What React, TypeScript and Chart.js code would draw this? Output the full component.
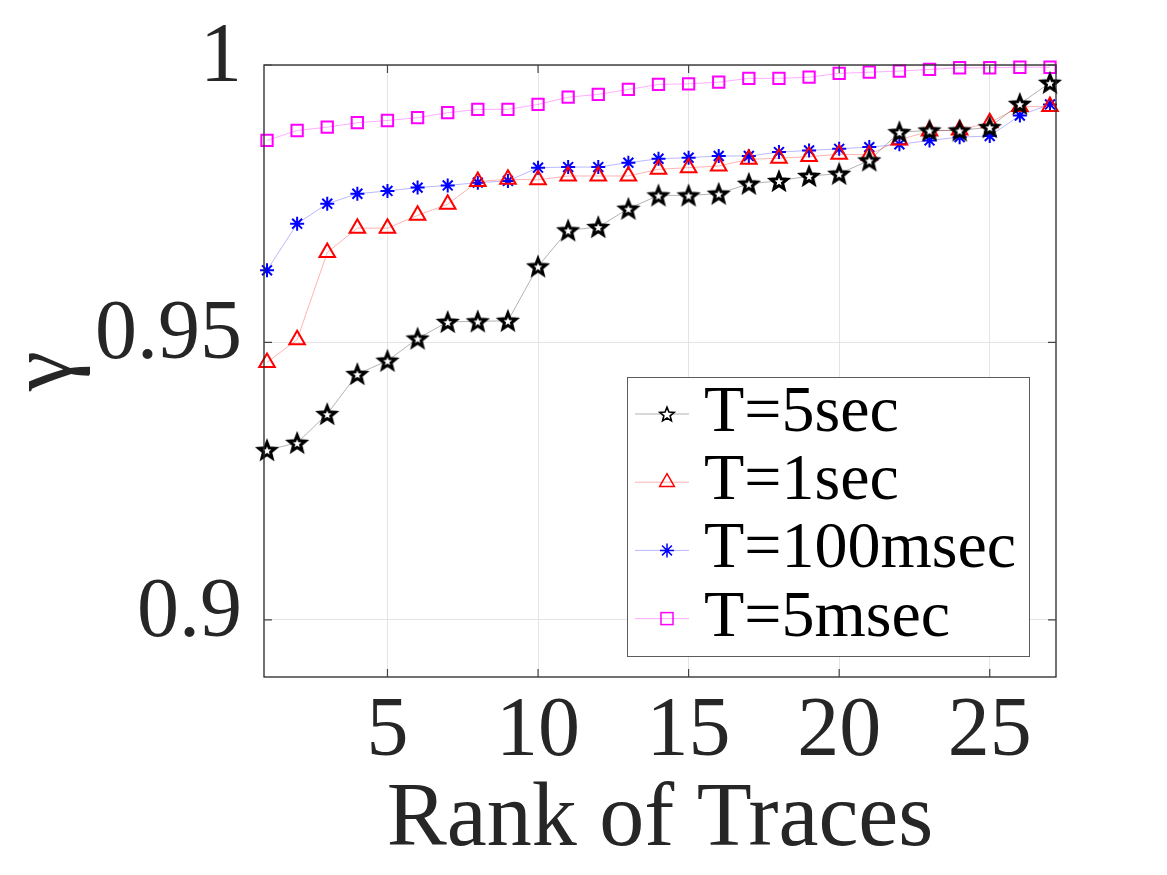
import React, { useEffect, useRef } from 'react';
import { Chart, registerables } from 'chart.js';

Chart.register(...registerables);

// Rank of each trace (x) and the gamma values for every window length T
const ranks = [1, 2, 3, 4, 5, 6, 7, 8, 9, 10, 11, 12, 13, 14, 15, 16, 17, 18, 19, 20, 21, 22, 23, 24, 25, 26, 27];

const gammaT5sec = [
  0.9306, 0.9319, 0.9371, 0.9443, 0.9467, 0.9507, 0.9537, 0.9538, 0.9539, 0.9637,
  0.9702, 0.9708, 0.9741, 0.9765, 0.9765, 0.9768, 0.9786, 0.9791, 0.98, 0.9804,
  0.9828, 0.9879, 0.9882, 0.9882, 0.9888, 0.993, 0.9968,
];
const gammaT1sec = [
  0.9464, 0.9505, 0.9662, 0.9706, 0.9706, 0.9729, 0.9749, 0.979, 0.9794, 0.9793,
  0.98, 0.98, 0.98, 0.9812, 0.9815, 0.9818, 0.983, 0.9832, 0.9835, 0.9839,
  0.9838, 0.9865, 0.9881, 0.9883, 0.9896, 0.9925, 0.9925,
];
const gammaT100msec = [
  0.963, 0.9714, 0.975, 0.9768, 0.9773, 0.9779, 0.9783, 0.9788, 0.9791, 0.9815,
  0.9816, 0.9816, 0.9824, 0.9831, 0.9833, 0.9836, 0.9836, 0.9843, 0.9846, 0.9849,
  0.9852, 0.9857, 0.9864, 0.987, 0.9872, 0.9909, 0.9929,
];
const gammaT5msec = [
  0.9864, 0.9882, 0.9888, 0.9896, 0.99, 0.9905, 0.9914, 0.992, 0.992, 0.9929,
  0.9942, 0.9947, 0.9956, 0.9965, 0.9966, 0.9969, 0.9976, 0.9976, 0.9978, 0.9985,
  0.9987, 0.9989, 0.9992, 0.9995, 0.9995, 0.9996, 0.9996,
];

const seriesLabels = ['T=5sec', 'T=1sec', 'T=100msec', 'T=5msec'];

const xTicks = [5, 10, 15, 20, 25];
const xTickLabels = ['5', '10', '15', '20', '25'];
const yTicks = [0.9, 0.95, 1];
const yTickLabels = ['0.9', '0.95', '1'];

const xTitle = 'Rank of Traces';
const yTitle = 'γ';

const SERIF = "'Liberation Serif', 'Times New Roman', Times, serif";
const INK = '#262626';

type MarkerKind = 'pentagram' | 'triangle' | 'asterisk' | 'square';

function tracePentagram(ctx: CanvasRenderingContext2D, cx: number, cy: number, R: number, r: number) {
  ctx.beginPath();
  for (let i = 0; i < 10; i++) {
    const a = -Math.PI / 2 + (i * Math.PI) / 5;
    const rad = i % 2 === 0 ? R : r;
    const px = cx + rad * Math.cos(a);
    const py = cy + rad * Math.sin(a);
    if (i === 0) ctx.moveTo(px, py);
    else ctx.lineTo(px, py);
  }
  ctx.closePath();
}

function makePentagram(R: number, r: number, lineWidth: number): HTMLCanvasElement {
  const size = Math.ceil(R * 2 + lineWidth * 4 + 4);
  const c = document.createElement('canvas');
  c.width = size;
  c.height = size;
  const ctx = c.getContext('2d')!;
  tracePentagram(ctx, size / 2, size / 2 + R * 0.1, R, r);
  ctx.fillStyle = '#ffffff';
  ctx.fill();
  ctx.lineJoin = 'miter';
  ctx.miterLimit = 4;
  ctx.lineWidth = lineWidth;
  ctx.strokeStyle = '#000000';
  ctx.stroke();
  return c;
}

function drawMarker(
  ctx: CanvasRenderingContext2D,
  kind: MarkerKind,
  x: number,
  y: number,
  color: string,
  lw: number,
  star: HTMLCanvasElement,
) {
  ctx.save();
  ctx.strokeStyle = color;
  ctx.lineWidth = lw;
  if (kind === 'pentagram') {
    ctx.drawImage(star, x - star.width / 2, y - star.height / 2);
  } else if (kind === 'triangle') {
    const r = 8.5;
    ctx.beginPath();
    ctx.moveTo(x, y - r);
    ctx.lineTo(x + r * Math.sin((2 * Math.PI) / 3), y + r / 2);
    ctx.lineTo(x - r * Math.sin((2 * Math.PI) / 3), y + r / 2);
    ctx.closePath();
    ctx.stroke();
  } else if (kind === 'asterisk') {
    const r = 7;
    const d = r * Math.SQRT1_2;
    ctx.beginPath();
    ctx.moveTo(x - r, y); ctx.lineTo(x + r, y);
    ctx.moveTo(x, y - r); ctx.lineTo(x, y + r);
    ctx.moveTo(x - d, y - d); ctx.lineTo(x + d, y + d);
    ctx.moveTo(x - d, y + d); ctx.lineTo(x + d, y - d);
    ctx.stroke();
  } else {
    const h = 6;
    ctx.strokeRect(x - h, y - h, 2 * h, 2 * h);
  }
  ctx.restore();
}

export default function App() {
  const canvasRef = useRef<HTMLCanvasElement | null>(null);

  useEffect(() => {
    const canvas = canvasRef.current;
    if (!canvas) return;

    const plotStar = makePentagram(8.6, 3.7, 3);
    const legendStar = makePentagram(7.5, 3.3, 1.6);

    const series = [
      { label: seriesLabels[0], values: gammaT5sec, color: '#000000', line: 'rgba(0,0,0,0.3)', kind: 'pentagram' as MarkerKind },
      { label: seriesLabels[1], values: gammaT1sec, color: '#ff0000', line: 'rgba(255,0,0,0.3)', kind: 'triangle' as MarkerKind },
      { label: seriesLabels[2], values: gammaT100msec, color: '#0000ff', line: 'rgba(0,0,255,0.28)', kind: 'asterisk' as MarkerKind },
      { label: seriesLabels[3], values: gammaT5msec, color: '#ff00ff', line: 'rgba(255,0,255,0.32)', kind: 'square' as MarkerKind },
    ];

    const pointStyles: Record<MarkerKind, any> = {
      pentagram: plotStar,
      triangle: 'triangle',
      asterisk: 'star',
      square: 'rect',
    };
    const pointRadii: Record<MarkerKind, number> = {
      pentagram: 9,
      triangle: 9,
      asterisk: 7,
      square: 8,
    };

    // Axes box with inward tick marks on all four sides
    const framePlugin = {
      id: 'frame',
      afterDatasetsDraw(chart: any) {
        const { ctx, chartArea: ca, scales } = chart;
        ctx.save();
        ctx.strokeStyle = INK;
        ctx.lineWidth = 1.3;
        ctx.strokeRect(ca.left, ca.top, ca.right - ca.left, ca.bottom - ca.top);
        ctx.lineWidth = 1.2;
        ctx.strokeStyle = '#444444';
        const len = 8;
        ctx.beginPath();
        xTicks.forEach((v) => {
          const px = scales.x.getPixelForValue(v);
          ctx.moveTo(px, ca.bottom); ctx.lineTo(px, ca.bottom - len);
          ctx.moveTo(px, ca.top); ctx.lineTo(px, ca.top + len);
        });
        yTicks.forEach((v) => {
          const py = scales.y.getPixelForValue(v);
          ctx.moveTo(ca.left, py); ctx.lineTo(ca.left + len, py);
          ctx.moveTo(ca.right, py); ctx.lineTo(ca.right - len, py);
        });
        ctx.stroke();
        ctx.restore();
      },
    };

    // Boxed legend placed in the lower-right corner of the plot area
    const legendPlugin = {
      id: 'boxLegend',
      afterDraw(chart: any) {
        const { ctx, chartArea: ca } = chart;
        const left = ca.right - 429;
        const top = ca.bottom - 300;
        const w = 402;
        const h = 279;
        ctx.save();
        ctx.fillStyle = '#ffffff';
        ctx.fillRect(left, top, w, h);
        ctx.strokeStyle = 'rgba(38,38,38,0.75)';
        ctx.lineWidth = 1;
        ctx.strokeRect(left + 0.5, top + 0.5, w, h);
        series.forEach((s, i) => {
          const cy = top + 37 + i * 68.2;
          ctx.strokeStyle = s.line;
          ctx.lineWidth = 1;
          ctx.beginPath();
          ctx.moveTo(left + 8, cy);
          ctx.lineTo(left + 62, cy);
          ctx.stroke();
          drawMarker(ctx, s.kind, left + 40, cy, s.color, 1.5, legendStar);
          ctx.fillStyle = '#000000';
          ctx.font = `66px ${SERIF}`;
          ctx.textAlign = 'left';
          ctx.textBaseline = 'alphabetic';
          ctx.fillText(s.label, left + 77, cy + 17);
        });
        ctx.restore();
      },
    };

    const chart = new Chart(canvas, {
      type: 'line',
      data: {
        datasets: series.map((s) => ({
          label: s.label,
          data: ranks.map((x, i) => ({ x, y: s.values[i] })),
          borderColor: s.line,
          borderWidth: 1,
          backgroundColor: 'rgba(0,0,0,0)',
          pointStyle: pointStyles[s.kind],
          pointRadius: pointRadii[s.kind],
          pointBorderColor: s.color,
          pointBackgroundColor: 'rgba(0,0,0,0)',
          pointBorderWidth: 2,
          tension: 0,
          clip: false as any,
        })),
      },
      options: {
        responsive: false,
        devicePixelRatio: 1,
        animation: false,
        events: [],
        layout: { padding: { top: 65, right: 111, bottom: 0, left: 0 } },
        plugins: {
          legend: { display: false },
          tooltip: { enabled: false },
        },
        scales: {
          x: {
            type: 'linear',
            min: 0.9,
            max: 27.2,
            afterBuildTicks: (scale: any) => {
              scale.ticks = xTicks.map((value) => ({ value }));
            },
            afterFit: (scale: any) => {
              scale.height = 198;
              scale.paddingLeft = 0;
              scale.paddingRight = 0;
            },
            grid: { color: '#e4e4e4', lineWidth: 1, drawTicks: false },
            border: { display: false },
            ticks: {
              padding: 6,
              color: INK,
              maxRotation: 0,
              autoSkip: false,
              font: { family: SERIF, size: 84 },
              callback: (_v: any, i: number) => xTickLabels[i],
            },
            title: {
              display: true,
              text: xTitle,
              color: INK,
              font: { family: SERIF, size: 90, lineHeight: 1 },
              padding: { top: 0, bottom: 9 },
            },
          },
          y: {
            type: 'linear',
            min: 0.8897,
            max: 1,
            afterBuildTicks: (scale: any) => {
              scale.ticks = yTicks.map((value) => ({ value }));
            },
            afterFit: (scale: any) => {
              scale.width = 264;
              scale.paddingTop = 0;
              scale.paddingBottom = 0;
            },
            grid: { color: '#e4e4e4', lineWidth: 1, drawTicks: false },
            border: { display: false },
            ticks: {
              padding: 22,
              labelOffset: -6,
              color: INK,
              autoSkip: false,
              font: { family: SERIF, size: 84 },
              callback: (_v: any, i: number) => yTickLabels[i],
            },
            title: {
              display: true,
              text: yTitle,
              color: INK,
              font: { family: SERIF, size: 90, lineHeight: 0.8 },
              padding: { top: 11, bottom: 0 },
            },
          },
        },
      },
      plugins: [framePlugin, legendPlugin],
    });

    return () => chart.destroy();
  }, []);

  return (
    <div style={{ position: 'absolute', left: 0, top: 0, width: 1167, height: 875, background: '#ffffff' }}>
      <canvas ref={canvasRef} width={1167} height={875} style={{ display: 'block' }} />
    </div>
  );
}
